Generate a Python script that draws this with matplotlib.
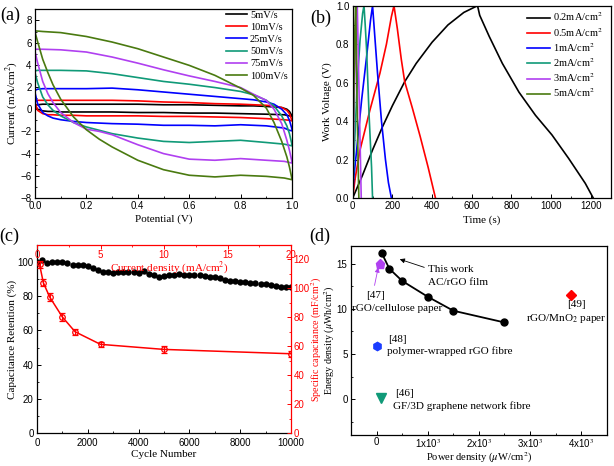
import matplotlib
matplotlib.use('Agg')
import matplotlib.pyplot as plt
from matplotlib.ticker import MultipleLocator, FixedLocator, FixedFormatter, FormatStrFormatter

plt.rcParams['font.family'] = ['Liberation Serif', 'DejaVu Serif']
plt.rcParams['mathtext.fontset'] = 'stix'
SANS = 'Liberation Sans'
LBL = 8
TICK = 7

# ---------------- (a) CV curves ----------------
up_v = [0.0, 0.01, 0.03, 0.1, 0.2, 0.3, 0.4, 0.5, 0.6, 0.7, 0.8, 0.85, 0.9, 0.93, 0.96, 0.98, 0.99, 1.0]
dn_v = [1.0, 0.99, 0.97, 0.9, 0.8, 0.7, 0.6, 0.5, 0.4, 0.3, 0.25, 0.2, 0.15, 0.1, 0.07, 0.05, 0.03, 0.01, 0.0]
cv_labels = ['5mV/s', '10mV/s', '25mV/s', '50mV/s', '75mV/s', '100mV/s']
cv_colors = ['#000000', '#ff0000', '#0000ff', '#109a78', '#b040f0', '#4a7a10']
i5_up = [0.35, 0.4, 0.45, 0.45, 0.45, 0.45, 0.45, 0.4, 0.4, 0.35, 0.3, 0.3, 0.25, 0.2, 0.15, 0.0, -0.2, -0.6]
i5_dn = [-0.65, -0.6, -0.5, -0.45, -0.4, -0.35, -0.35, -0.3, -0.3, -0.25, -0.25, -0.25, -0.25, -0.25, -0.2, -0.2, -0.15, 0.0, 0.3]
i10_up = [0.7, 0.8, 0.8, 0.8, 0.8, 0.8, 0.75, 0.65, 0.6, 0.5, 0.45, 0.4, 0.35, 0.3, 0.15, -0.1, -0.4, -1.0]
i10_dn = [-1.05, -1.0, -0.95, -0.85, -0.75, -0.7, -0.65, -0.65, -0.6, -0.6, -0.6, -0.6, -0.55, -0.55, -0.5, -0.5, -0.4, -0.1, 0.6]
i25_up = [1.7, 1.8, 1.85, 1.85, 1.85, 1.9, 1.75, 1.55, 1.35, 1.15, 0.95, 0.85, 0.65, 0.45, 0.0, -0.5, -1.0, -1.8]
i25_dn = [-1.95, -1.9, -1.7, -1.5, -1.4, -1.5, -1.45, -1.45, -1.35, -1.3, -1.25, -1.2, -1.1, -0.95, -0.8, -0.6, -0.3, 0.5, 1.5]
i50_up = [3.45, 3.5, 3.5, 3.5, 3.45, 3.2, 2.85, 2.5, 2.25, 1.95, 1.6, 1.3, 0.8, 0.3, -0.6, -1.5, -2.2, -3.2]
i50_dn = [-3.3, -3.25, -3.15, -3.0, -2.8, -2.9, -3.0, -2.9, -2.6, -2.2, -1.9, -1.6, -1.2, -0.6, -0.1, 0.4, 1.1, 2.4, 3.3]
i75_up = [5.4, 5.4, 5.4, 5.35, 5.15, 4.7, 4.15, 3.55, 3.0, 2.5, 1.95, 1.35, 0.8, 0.0, -1.3, -2.8, -3.7, -4.75]
i75_dn = [-4.85, -4.8, -4.7, -4.6, -4.45, -4.6, -4.5, -4.0, -3.2, -2.3, -2.0, -1.8, -1.2, -0.3, 0.6, 1.4, 2.5, 4.2, 5.2]
i100_up = [7.05, 7.04, 7.0, 6.9, 6.55, 6.05, 5.45, 4.7, 3.95, 3.05, 1.9, 1.25, 0.1, -1.2, -2.9, -4.3, -5.2, -6.3]
i100_dn = [-6.35, -6.3, -6.2, -6.05, -5.95, -6.1, -5.95, -5.45, -4.6, -3.4, -2.7, -1.85, -0.7, 0.9, 2.2, 3.3, 4.5, 6.1, 6.95]
cv_up = [i5_up, i10_up, i25_up, i50_up, i75_up, i100_up]
cv_dn = [i5_dn, i10_dn, i25_dn, i50_dn, i75_dn, i100_dn]

# ---------------- (b) GCD curves ----------------
gcd_labels = [r'0.2mA/cm$^2$', r'0.5mA/cm$^2$', r'1mA/cm$^2$', r'2mA/cm$^2$', r'3mA/cm$^2$', r'5mA/cm$^2$']
t02 = [0, 50, 100, 150, 200, 262, 320, 400, 480, 560, 629, 640, 688, 754, 838, 921, 1004, 1088, 1172, 1212]
v02 = [0.0, 0.12, 0.25, 0.37, 0.48, 0.605, 0.70, 0.81, 0.90, 0.965, 1.0, 0.95, 0.84, 0.70, 0.55, 0.43, 0.328, 0.206, 0.076, 0.0]
t05 = [0, 12, 37, 87, 137, 170, 195, 208, 225, 245, 262, 300, 340, 380, 417]
v05 = [0.0, 0.1, 0.25, 0.458, 0.648, 0.80, 0.943, 1.0, 0.88, 0.72, 0.605, 0.47, 0.32, 0.16, 0.0]
t1 = [0, 5, 20, 45, 70, 90, 100, 110, 125, 145, 165, 180, 195]
v1 = [0.0, 0.1, 0.25, 0.51, 0.735, 0.926, 1.0, 0.86, 0.65, 0.40, 0.2, 0.08, 0.0]
t2 = [0, 6, 12, 23, 37, 50, 57, 63, 70, 83, 95, 100]
v2 = [0.0, 0.2, 0.34, 0.6, 0.82, 0.96, 1.0, 0.9, 0.77, 0.42, 0.16, 0.0]
t3 = [0, 4, 10, 17, 23, 27, 33, 39, 43]
v3 = [0.0, 0.3, 0.62, 0.88, 1.0, 0.8, 0.5, 0.2, 0.0]
t5 = [0, 3, 7, 11, 15, 18, 22, 27, 31]
v5 = [0.0, 0.3, 0.62, 0.88, 1.0, 0.8, 0.5, 0.2, 0.0]
gcd_t = [t02, t05, t1, t2, t3, t5]
gcd_v = [v02, v05, v1, v2, v3, v5]

# ---------------- (c) cycling & rate ----------------
cycles = list(range(0, 10001, 200))
retention = [100, 101.3, 99.3, 100, 100.2, 100.2, 99.5, 98.4, 98.2, 98.3,
             97.5, 96.5, 95.3, 94.3, 94, 93.8, 94, 94.2, 94.2, 94.1,
             93.7, 94.7, 93.2, 92.3, 91.5, 92, 92.2, 92.3, 93.1, 92.6,
             92.2, 92.2, 92.2, 91.9, 91.5, 91.4, 90.5, 89.6, 89.1, 88.8,
             88.6, 88.3, 88, 87.7, 87.4, 87, 86.6, 86.1, 85.6, 85.3, 85.2]
cur_dens = [0.2, 0.5, 1, 2, 3, 5, 10, 20]
spec_cap = [116.6, 103.9, 94.0, 80.2, 70.0, 61.3, 57.8, 54.8]
spec_err = [2.5, 2.5, 2.5, 3.0, 2.0, 1.5, 2.5, 2.0]

# ---------------- (d) Ragone ----------------
pw_this = [100, 250, 500, 1000, 1500, 2500]
en_this = [16.2, 14.45, 13.1, 11.35, 9.8, 8.5]
ref_pw = [59, 3800, 5, 90]
ref_en = [15.0, 11.5, 5.92, 0.15]
ref_markers = ['p', 'D', 'h', 'v']
ref_colors = ['#b040f0', '#ff0000', '#1a3cff', '#109a78']
ref_sizes = [6.5, 5, 6, 6.5]

W, H = 614, 466
fig = plt.figure(figsize=(W / 100, H / 100), dpi=100)


def rect(l, r, t, b):
    return [l / W, (H - b) / H, (r - l) / W, (b - t) / H]


def style(ax, color='black'):
    ax.tick_params(which='both', direction='in', labelsize=TICK,
                   labelfontfamily=SANS, colors=color, pad=2.5)
    ax.tick_params(which='major', length=3.2, width=0.7)
    ax.tick_params(which='minor', length=1.7, width=0.6)
    for s in ax.spines.values():
        s.set_linewidth(0.9)


# ---- (a)
axa = fig.add_axes(rect(35, 292, 9.3, 198))
for k in range(6):
    axa.plot(up_v + dn_v, cv_up[k] + cv_dn[k], color=cv_colors[k], lw=1.2,
             label=cv_labels[k])
axa.set_xlim(0, 1.0)
axa.set_ylim(-8, 9)
axa.xaxis.set_major_locator(MultipleLocator(0.2))
axa.xaxis.set_minor_locator(MultipleLocator(0.1))
axa.yaxis.set_major_locator(FixedLocator([-8, -6, -4, -2, 0, 2, 4, 6, 8]))
axa.yaxis.set_minor_locator(MultipleLocator(1))
axa.xaxis.set_major_formatter(FormatStrFormatter('%.1f'))
style(axa)
axa.set_xlabel('Potential (V)', fontsize=LBL)
axa.set_ylabel(r'Current (mA/cm$^2$)', fontsize=LBL)
axa.xaxis.set_label_coords(0.5, -0.088)
axa.yaxis.set_label_coords(-0.058, 0.5)
axa.legend(loc='upper left', bbox_to_anchor=(0.745, 0.995), frameon=False,
           fontsize=7.5, handlelength=2.0, handletextpad=0.25, labelspacing=0.28,
           borderpad=0, borderaxespad=0)

# ---- (b)
axb = fig.add_axes(rect(352.7, 610.7, 5.7, 198))
for k in range(6):
    axb.plot(gcd_t[k], gcd_v[k], color=cv_colors[k], lw=1.2, label=gcd_labels[k])
axb.set_xlim(0, 1300)
axb.set_ylim(0, 1.0)
axb.xaxis.set_major_locator(MultipleLocator(200))
axb.xaxis.set_minor_locator(MultipleLocator(100))
axb.yaxis.set_major_locator(MultipleLocator(0.2))
axb.yaxis.set_minor_locator(MultipleLocator(0.1))
axb.yaxis.set_major_formatter(FormatStrFormatter('%.1f'))
style(axb)
axb.set_xlabel('Time (s)', fontsize=LBL)
axb.set_ylabel('Work Voltage (V)', fontsize=LBL)
axb.xaxis.set_label_coords(0.5, -0.088)
axb.yaxis.set_label_coords(-0.080, 0.5)
axb.legend(loc='upper left', bbox_to_anchor=(0.677, 0.975), frameon=False,
           fontsize=7.5, handlelength=2.2, handletextpad=0.25, labelspacing=0.22,
           borderpad=0, borderaxespad=0)

# ---- (c)
posc = rect(37, 291, 245, 433)
axc = fig.add_axes(posc)
axc.plot(cycles, retention, 'o', color='black', ms=4.6, mew=0)
axc.set_xlim(0, 10000)
axc.set_ylim(0, 110)
axc.xaxis.set_major_locator(MultipleLocator(2000))
axc.xaxis.set_minor_locator(MultipleLocator(1000))
axc.yaxis.set_major_locator(FixedLocator([0, 20, 40, 60, 80, 100]))
axc.yaxis.set_minor_locator(MultipleLocator(10))
axc.spines['top'].set_visible(False)
axc.spines['right'].set_visible(False)
style(axc)
axc.tick_params(axis='x', pad=3.3)
axc.set_xlabel('Cycle Number', fontsize=LBL)
axc.set_ylabel('Capacitance Retention (%)', fontsize=LBL)
axc.xaxis.set_label_coords(0.5, -0.09)
axc.yaxis.set_label_coords(-0.077, 0.5)

axc2 = fig.add_axes(posc, label='rate')
axc2.patch.set_alpha(0)
axc2.errorbar(cur_dens, spec_cap, yerr=spec_err, color='red', marker='o', mfc='none',
              ms=4, mew=0.9, lw=1.1, elinewidth=0.8, capsize=2, capthick=0.8)
axc2.set_xlim(0, 20)
axc2.set_ylim(0, 130)
axc2.xaxis.set_ticks_position('top')
axc2.xaxis.set_label_position('top')
axc2.yaxis.set_ticks_position('right')
axc2.yaxis.set_label_position('right')
axc2.spines['left'].set_visible(False)
axc2.spines['bottom'].set_visible(False)
for s in ['top', 'right']:
    axc2.spines[s].set_color('red')
axc2.xaxis.set_major_locator(MultipleLocator(5))
axc2.xaxis.set_minor_locator(MultipleLocator(2.5))
axc2.yaxis.set_major_locator(FixedLocator([0, 20, 40, 60, 80, 100, 120]))
axc2.yaxis.set_minor_locator(MultipleLocator(10))
style(axc2, color='red')
axc2.tick_params(axis='x', pad=-10.5)
axc2.tick_params(axis='y', pad=2.0)
axc2.set_xlabel(r'Current density (mA/cm$^2$)', fontsize=LBL, color='red')
axc2.xaxis.set_label_coords(0.52, 0.865)
axc2.set_ylabel(r'Specific capacitance (mF/cm$^2$)', fontsize=7.2, color='red',
                rotation=90)
axc2.yaxis.set_label_coords(1.073, 0.5)

# ---- (d)
axd = fig.add_axes(rect(351, 606.7, 245.7, 435.3))
axd.plot(pw_this, en_this, '-o', color='black', lw=1.3, ms=5)
for k in range(4):
    axd.plot([ref_pw[k]], [ref_en[k]], marker=ref_markers[k], color=ref_colors[k],
             ms=ref_sizes[k], ls='none')
axd.set_xlim(-500, 4500)
axd.set_ylim(-4, 17)
axd.xaxis.set_major_locator(FixedLocator([0, 1000, 2000, 3000, 4000]))
axd.xaxis.set_major_formatter(FixedFormatter(['0', r'1x10$^3$', r'2x10$^3$',
                                              r'3x10$^3$', r'4x10$^3$']))
axd.xaxis.set_minor_locator(MultipleLocator(500))
axd.yaxis.set_major_locator(FixedLocator([0, 5, 10, 15]))
axd.yaxis.set_minor_locator(MultipleLocator(2.5))
style(axd)
axd.tick_params(axis='x', pad=1.5)
axd.set_xlabel(r'Power density ($\mu$W/cm$^2$)', fontsize=7.6)
axd.set_ylabel(r'Energy density ($\mu$Wh/cm$^2$)', fontsize=7.2)
axd.xaxis.set_label_coords(0.5, -0.083)
axd.yaxis.set_label_coords(-0.055, 0.5)

TF = 8
axd.text(1010, 14.37, 'This work', fontsize=TF, ha='left', va='center')
axd.text(1010, 12.9, 'AC/rGO film', fontsize=TF, ha='left', va='center')
axd.text(-20, 11.5, '[47]', fontsize=TF, ha='center', va='center')
axd.text(394, 10.0, 'rGO/cellulose paper', fontsize=TF, ha='center', va='center')
axd.text(3904, 10.47, '[49]', fontsize=TF, ha='center', va='center')
axd.text(3715, 8.93, r'rGO/MnO$_2$ paper', fontsize=TF, ha='center', va='center')
axd.text(407, 6.6, '[48]', fontsize=TF, ha='center', va='center')
axd.text(210, 5.33, 'polymer-wrapped rGO fibre', fontsize=TF, ha='left', va='center')
axd.text(538, 0.66, '[46]', fontsize=TF, ha='center', va='center')
axd.text(328, -0.73, 'GF/3D graphene network fibre', fontsize=TF, ha='left', va='center')
axd.annotate('', xy=(453, 15.5), xytext=(933, 14.6),
             arrowprops=dict(arrowstyle='-|>', lw=0.6, color='black', mutation_scale=7,
                             shrinkA=0, shrinkB=0))
axd.annotate('', xy=(33, 14.6), xytext=(-40, 12.6),
             arrowprops=dict(arrowstyle='-|>', lw=0.6, color='#b040f0', mutation_scale=7,
                             shrinkA=0, shrinkB=0))

# panel letters
for lab, x, y in [('(a)', 10, 15), ('(b)', 321, 18), ('(c)', 9, 236), ('(d)', 320, 236)]:
    fig.text(x / W, 1 - y / H, lab, fontsize=13, ha='center', va='center')

fig.savefig('out.png', dpi=100)
